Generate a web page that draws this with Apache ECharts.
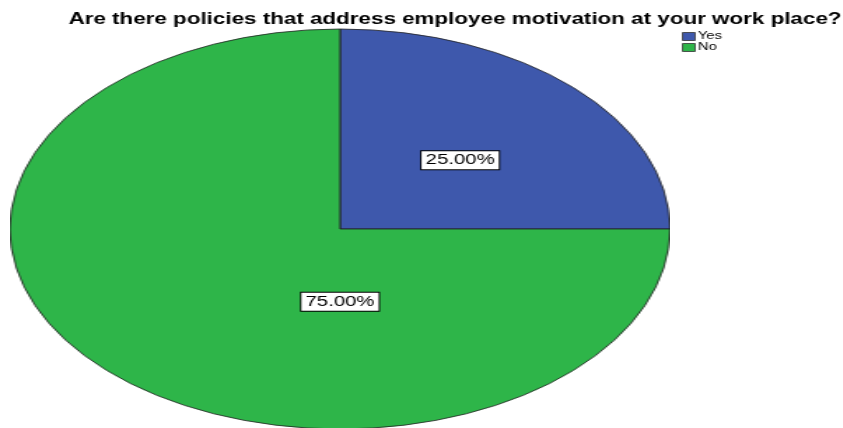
<!DOCTYPE html>
<html>
<head>
<meta charset="utf-8">
<script src="https://cdn.jsdelivr.net/npm/echarts@6/dist/echarts.min.js"></script>
<style>
  html, body { margin: 0; padding: 0; background: #fff; }
  #wrap { position: relative; width: 843px; height: 428px; overflow: hidden; }
  /* the pie is drawn round, then stretched into the ellipse of the reference */
  #pie { position: absolute; left: 140px; top: 0; width: 400px; height: 428px;
         transform: scaleX(1.65); transform-origin: 200px 229px; }
  /* texts are also a little wide in the reference */
  #over { position: absolute; left: 0; top: 0; width: 602px; height: 428px;
          transform: scaleX(1.4); transform-origin: 0 0; }
</style>
</head>
<body>
<div id="wrap">
  <div id="pie"></div>
  <div id="over"></div>
</div>
<script>
  // data
  const categories = ['Yes', 'No'];
  const values = [25, 75];
  const colors = ['#3e58ac', '#2eb549'];

  const PIE_STRETCH = 1.65;   // ellipse width / height
  const TEXT_STRETCH = 1.4;   // stretch of the text layer
  const CX = 340;             // ellipse centre in page px
  const CY = 229;
  const R = 200;

  const items = categories.map((c, i) => ({ name: c, value: values[i], itemStyle: { color: colors[i] } }));

  // round pie, stretched by css
  const pieChart = echarts.init(document.getElementById('pie'));
  pieChart.setOption({
    animation: false,
    series: [{
      type: 'pie',
      center: [200, CY],
      radius: R,
      startAngle: 90,
      clockwise: true,
      label: { show: false },
      labelLine: { show: false },
      itemStyle: { borderColor: '#222', borderWidth: 0.8 },
      emphasis: { disabled: true },
      data: items
    }]
  });

  // title, legend and labels
  const cxLocal = CX / TEXT_STRETCH;
  const font = 'Arial, "Liberation Sans"';
  const overChart = echarts.init(document.getElementById('over'));
  overChart.setOption({
    animation: false,
    title: {
      text: 'Are there policies that address employee motivation at your work place?',
      left: 448 / TEXT_STRETCH,
      textAlign: 'center',
      top: 7,
      textStyle: { fontFamily: font, fontSize: 16, fontWeight: 'bold', color: '#000' }
    },
    legend: {
      orient: 'vertical',
      left: 675 / TEXT_STRETCH,
      top: 26,
      itemWidth: 9,
      itemHeight: 8,
      itemGap: 0,
      selectedMode: false,
      textStyle: { fontFamily: font, fontSize: 10.5, color: '#000', padding: [0, 0, 0, -3] },
      data: categories.map((c, i) => ({ name: c, icon: 'rect', itemStyle: { color: colors[i], borderColor: '#333', borderWidth: 0.8 } }))
    },
    series: [{
      type: 'pie',
      center: [cxLocal, CY],
      radius: R,
      startAngle: 90,
      clockwise: true,
      silent: true,
      labelLine: { show: false },
      label: {
        show: true,
        position: 'inside',
        formatter: p => p.value.toFixed(2) + '%',
        fontFamily: font,
        fontSize: 14.5,
        color: '#000',
        backgroundColor: '#fff',
        borderColor: '#000',
        borderWidth: 1,
        padding: [2, 3, 1, 3]
      },
      // move the labels to where they sit on the ellipse
      labelLayout: function (params) {
        const r = params.labelRect;
        const mid = r.x + r.width / 2;
        if (params.dataIndex === 1) return { dx: cxLocal - mid };
        return { dx: (mid - cxLocal) * (PIE_STRETCH / TEXT_STRETCH - 1), dy: 4 };
      },
      data: categories.map((c, i) => ({ name: c, value: values[i], itemStyle: { color: 'rgba(0,0,0,0)', borderWidth: 0 } }))
    }]
  });
</script>
</body>
</html>
